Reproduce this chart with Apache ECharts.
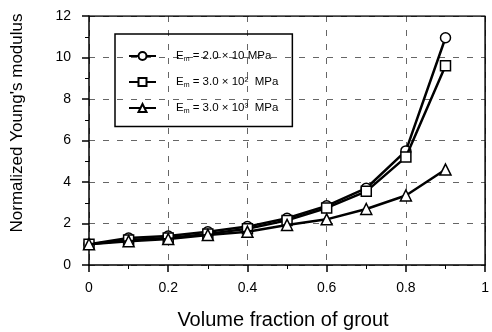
<!DOCTYPE html>
<html><head><meta charset="utf-8">
<script src="https://cdn.jsdelivr.net/npm/echarts@6/dist/echarts.min.js"></script>
<style>html,body{margin:0;padding:0;background:#fff}#c{width:492px;height:332px}</style>
</head><body><div id="c"></div>
<script>
var xValues = [0, 0.1, 0.2, 0.3, 0.4, 0.5, 0.6, 0.7, 0.8, 0.9];
var seriesA = [1.0, 1.3, 1.4, 1.6, 1.85, 2.25, 2.85, 3.7, 5.5, 10.95];
var seriesB = [1.0, 1.2, 1.3, 1.5, 1.75, 2.15, 2.75, 3.55, 5.2, 9.6];
var seriesC = [1.0, 1.15, 1.25, 1.45, 1.6, 1.93, 2.2, 2.7, 3.35, 4.6];
var seriesNames = ['a', 'b', 'c'];
var legendLabels = {
  a: '{f|E}{s|m}{n| = 2.0 × 10 MPa}',
  b: '{f|E}{s|m}{n| = 3.0 × 10²  MPa}',
  c: '{f|E}{s|m}{n| = 3.0 × 10³  MPa}'
};
var xTitle = 'Volume fraction of grout';
var yTitle = "Normalized Young's modulus";
var symbols = ['circle', 'rect', 'triangle'];
var allData = [seriesA, seriesB, seriesC];

function pairs(arr) { return xValues.map(function (x, i) { return [x, arr[i]]; }); }

var chart = echarts.init(document.getElementById('c'), null, {renderer: 'canvas'});
var font = 'Liberation Sans, Arial, sans-serif';
var series = seriesNames.map(function (n, i) {
  return {
    name: n, type: 'line', data: pairs(allData[i]),
    symbol: symbols[i], symbolSize: i === 2 ? 11 : 10,
    showAllSymbol: true,
    lineStyle: {color: '#000', width: 2.5},
    itemStyle: {color: '#fff', borderColor: '#000', borderWidth: 1.5},
    z: 3 + i
  };
});
// frame lines (top & right)
series.push({
  type: 'line', data: [[0, 12], [1, 12], [1, 0]], symbol: 'none', silent: true,
  lineStyle: {color: '#000', width: 1.5}, z: 2
});
var fs = 11.5;
chart.setOption({
  animation: false,
  textStyle: {fontFamily: font},
  grid: {left: 89, right: 4, top: 16, bottom: 67},
  graphic: [
    {type: 'text', x: 283, y: 320, silent: true,
      style: {text: xTitle, font: '20px ' + font, fill: '#000', align: 'center', verticalAlign: 'middle'}},
    {type: 'text', x: 17.5, y: 123, rotation: Math.PI / 2, silent: true,
      style: {text: yTitle, font: '17px ' + font, fill: '#000', align: 'center', verticalAlign: 'middle'}}
  ],
  legend: {
    data: seriesNames,
    orient: 'vertical', left: 115, top: 34,
    itemWidth: 27, itemHeight: 10, itemGap: 13.5,
    padding: [16, 14, 12, 13],
    borderColor: '#000', borderWidth: 1.5,
    formatter: function (n) { return legendLabels[n]; },
    textStyle: {
      color: '#000', fontSize: fs, fontFamily: font,
      rich: {
        f: {fontSize: fs, fontFamily: font, color: '#000', padding: [0, 0, 0, 15]},
        n: {fontSize: fs, fontFamily: font, color: '#000'},
        s: {fontSize: 7, fontFamily: font, color: '#000', verticalAlign: 'bottom', padding: [6, 0, 0, 0]}
      }
    }
  },
  xAxis: {
    type: 'value', min: 0, max: 1, interval: 0.2,
    axisLine: {onZero: false, lineStyle: {color: '#000', width: 1.5}},
    axisTick: {show: true, length: 7, lineStyle: {color: '#000', width: 1.5}},
    minorTick: {show: true, splitNumber: 2, length: 4, lineStyle: {color: '#000', width: 1}},
    axisLabel: {fontSize: 14, color: '#000', margin: 16, fontFamily: font,
      formatter: function (v) { return String(Math.round(v * 10) / 10); }},
    splitLine: {show: true, lineStyle: {color: '#666', type: [6, 8], width: 1}}
  },
  yAxis: {
    type: 'value', min: 0, max: 12, interval: 2,
    axisLine: {onZero: false, lineStyle: {color: '#000', width: 1.5}},
    axisTick: {show: true, length: 7, lineStyle: {color: '#000', width: 1.5}},
    minorTick: {show: true, splitNumber: 2, length: 4, lineStyle: {color: '#000', width: 1}},
    axisLabel: {fontSize: 14, color: '#000', margin: 18, fontFamily: font},
    splitLine: {show: true, lineStyle: {color: '#666', type: [6, 8], width: 1}}
  },
  series: series
});
</script></body></html>
